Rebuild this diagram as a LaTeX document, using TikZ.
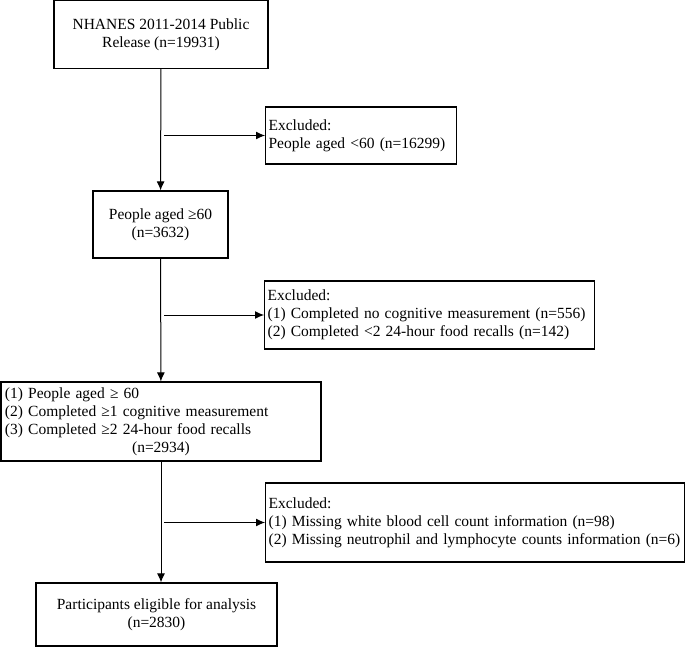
\documentclass[tikz,border=0pt]{standalone}
\usepackage{fontspec}
\setmainfont{Liberation Serif}
\usetikzlibrary{arrows.meta}
\tikzset{stage/.style={draw, line width=1.2pt, align=center, inner sep=0pt, font=\fontsize{15.5}{18}\selectfont}}
\tikzset{excluded/.style={draw, line width=1.2pt, align=left, anchor=west, inner xsep=3pt, inner ysep=0pt, font=\fontsize{15.5}{18}\selectfont}}
\tikzset{flow/.style={line width=1pt, -{Latex[length=9pt, width=8pt]}}}

\begin{document}
\begin{tikzpicture}[x=1pt, y=-1pt]
            \useasboundingbox (0, 0) rectangle (685, 647);
            \node[stage, minimum width=214pt, minimum height=68pt] (release) at (161, 34.5) {NHANES 2011-2014 Public\\Release (n=19931)};
            \node[stage, minimum width=135pt, minimum height=67pt] (aged) at (160.5, 224.5) {People aged ≥60\\(n=3632)};
            \node[stage, minimum width=320pt, minimum height=79pt, text width=312pt, align=left] (completed) at (161, 421.5) {(1) People aged ≥ 60\\(2) Completed ≥1 cognitive measurement\\(3) Completed ≥2 24-hour food recalls\par{\centering (n=2934)\par}};
            \node[stage, minimum width=241pt, minimum height=63pt] (eligible) at (156.5, 614.5) {Participants eligible for analysis\\(n=2830)};
            \node[excluded, text width=185pt, minimum height=57pt] (excl age) at (265, 135.5) {Excluded:\\People aged <60 (n=16299)};
            \node[excluded, text width=324pt, minimum height=68pt] (excl recall) at (264, 315) {Excluded:\\(1) Completed no cognitive measurement (n=556)\\(2) Completed <2 24-hour food recalls (n=142)};
            \node[excluded, text width=413pt, minimum height=79pt] (excl blood) at (265, 522.5) {Excluded:\\(1) Missing white blood cell count information (n=98)\\(2) Missing neutrophil and lymphocyte counts information (n=6)};
            \coordinate (split age) at (164, 135.5);
            \coordinate (split recall) at (164, 315);
            \coordinate (split blood) at (164, 522.5);
            \draw[flow] (release) -- (aged);
            \draw[flow] (aged) -- (completed);
            \draw[flow] (completed.south) -- (completed.south |- eligible.north);
            \draw[flow] (split age) -- (excl age);
            \draw[flow] (split recall) -- (excl recall);
            \draw[flow] (split blood) -- (excl blood);
        \end{tikzpicture}
\end{document}
